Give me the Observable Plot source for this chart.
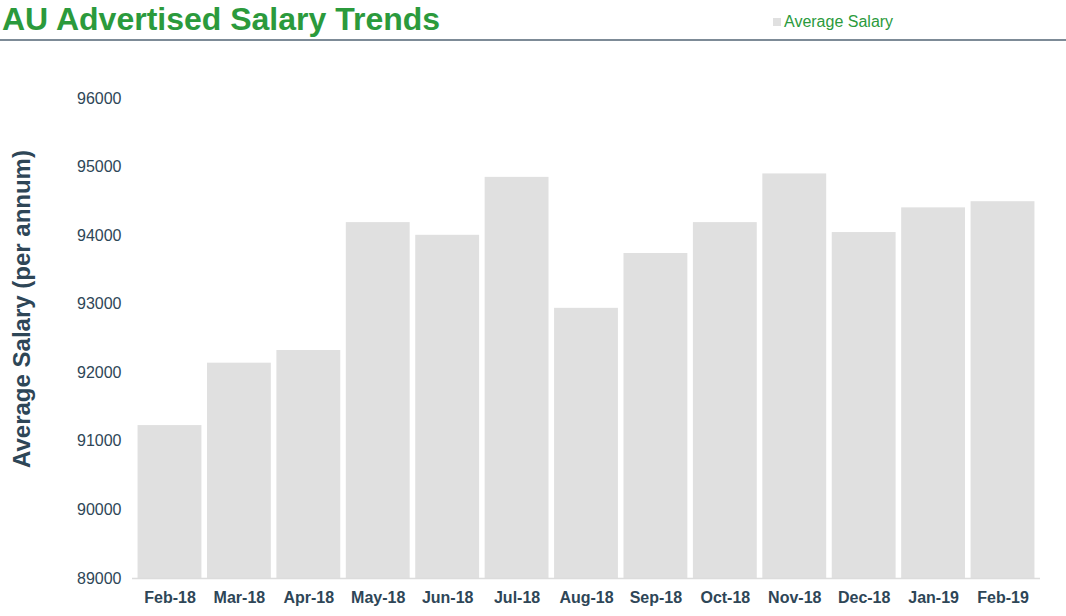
<!DOCTYPE html>
<html>
<head>
<meta charset="utf-8">
<script src="https://cdn.jsdelivr.net/npm/d3@7"></script>
<script src="https://cdn.jsdelivr.net/npm/@observablehq/plot@0.6"></script>
<style>
  html, body { margin: 0; padding: 0; background: #fff; }
  body { position: relative; width: 1066px; height: 616px; overflow: hidden; font-family: "Liberation Sans", Arial, sans-serif; }
  #header { position: relative; height: 39px; border-bottom: 2px solid #7d8b97; }
  #title { position: absolute; left: 2px; top: 1px; font-size: 32px; font-weight: bold; color: #2b9a3c; white-space: nowrap; }
  #legend { position: absolute; left: 773px; top: 13px; font-size: 16px; color: #2b9a3c; display: flex; align-items: center; }
  #legend .sw { width: 8px; height: 8px; background: #e0e0e0; margin-right: 3px; }
  #ylabel { position: absolute; left: 22px; top: 309px; transform: translate(-50%, -50%) rotate(-90deg); font-size: 24px; font-weight: bold; color: #2e4657; white-space: nowrap; }
</style>
</head>
<body>
<div id="header">
  <div id="title">AU Advertised Salary Trends</div>
  <div id="legend"><span class="sw"></span><span>Average Salary</span></div>
</div>
<div id="chart"></div>
<div id="ylabel"></div>
<script>
const months = ["Feb-18","Mar-18","Apr-18","May-18","Jun-18","Jul-18","Aug-18","Sep-18","Oct-18","Nov-18","Dec-18","Jan-19","Feb-19"];
const salaries = [91230, 92140, 92325, 94190, 94005, 94850, 92940, 93740, 94190, 94900, 94045, 94405, 94495];
const yTicks = [89000, 90000, 91000, 92000, 93000, 94000, 95000, 96000];
const yLabel = "Average Salary (per annum)";

document.getElementById("ylabel").textContent = yLabel;
const data = months.map((m, i) => ({month: m, salary: salaries[i]}));
const textColor = "#2e4657";

const chart = Plot.plot({
  width: 1066,
  height: 575,
  marginTop: 57,
  marginBottom: 38,
  marginLeft: 132,
  marginRight: 26,
  style: {fontFamily: "'Liberation Sans', Arial, sans-serif", fontSize: "16px", color: textColor, background: "#fff"},
  x: {domain: months, padding: 0.08, round: false, label: null},
  y: {domain: [89000, 96000], label: null},
  marks: [
    Plot.barY(data, {x: "month", y1: 89000, y2: "salary", fill: "#e0e0e0"}),
    Plot.ruleY([89000], {stroke: "#dcdcdc", strokeWidth: 1.5}),
    Plot.axisY({ticks: yTicks, tickSize: 0, tickPadding: 11, tickFormat: d => String(d), fill: textColor, fontSize: 16, label: null}),
    Plot.axisX({tickSize: 0, tickPadding: 13, fill: textColor, fontSize: 16, fontWeight: "bold", label: null})
  ]
});
document.getElementById("chart").appendChild(chart);
</script>
</body>
</html>
